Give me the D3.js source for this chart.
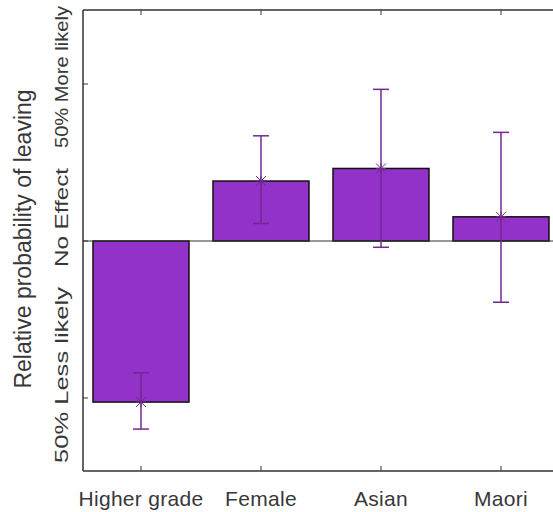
<!DOCTYPE html>
<html>
<head>
<meta charset="utf-8">
<script src="https://cdn.jsdelivr.net/npm/d3@7"></script>
<style>
  html, body { margin: 0; padding: 0; background: #fff; }
  svg { display: block; }
  text { font-family: "Liberation Sans", Arial, Helvetica, sans-serif; fill: #383838; }
</style>
</head>
<body>
<svg id="chart" width="553" height="512"></svg>
<script>
const categories = ["Higher grade", "Female", "Asian", "Maori"];
const values = [-0.513, 0.191, 0.231, 0.077];
const lowerCI = [-0.599, 0.056, -0.020, -0.195];
const upperCI = [-0.420, 0.335, 0.483, 0.346];
const yTickValues = [-0.5, 0, 0.5];
const yTickLabels = ["50% Less likely", "No Effect", "50% More likely"];
const yLabel = "Relative probability of leaving";

(function () {
const svg = d3.select("#chart");
const mLeft = 83, mTop = 10, mBottom = 471;
const x = d3.scaleLinear().domain([0.5167, 4.5167]).range([mLeft, mLeft + 480]);
const y = d3.scaleLinear().domain([-0.7325, 0.7357]).range([mBottom, mTop]);
const barW = x(1.4) - x(0.6);

const data = categories.map((c, i) => ({ c, i: i + 1, v: values[i], lo: lowerCI[i], hi: upperCI[i] }));

// bars
svg.append("g").selectAll("rect").data(data).join("rect")
  .attr("x", d => x(d.i) - barW / 2)
  .attr("width", barW)
  .attr("y", d => Math.min(y(d.v), y(0)))
  .attr("height", d => Math.abs(y(d.v) - y(0)))
  .attr("fill", "#9332c8")
  .attr("stroke", "#111")
  .attr("stroke-width", 1.5);

// zero line
svg.append("line")
  .attr("x1", mLeft).attr("x2", 553)
  .attr("y1", y(0)).attr("y2", y(0))
  .attr("stroke", "#333").attr("stroke-width", 1);

// error bars
const eb = svg.append("g").attr("stroke", "#73288f").attr("stroke-width", 1.5).attr("fill", "none");
data.forEach(d => {
  const cx = x(d.i);
  eb.append("line").attr("x1", cx).attr("x2", cx).attr("y1", y(d.lo)).attr("y2", y(d.hi));
  eb.append("line").attr("x1", cx - 8).attr("x2", cx + 8).attr("y1", y(d.lo)).attr("y2", y(d.lo));
  eb.append("line").attr("x1", cx - 8).attr("x2", cx + 8).attr("y1", y(d.hi)).attr("y2", y(d.hi));
  const cy = y(d.v), s = 5;
  eb.append("path").attr("stroke-width", 1)
    .attr("d", `M${cx - s},${cy - s}L${cx + s},${cy + s}M${cx - s},${cy + s}L${cx + s},${cy - s}M${cx},${cy - s}L${cx},${cy + s}M${cx - s},${cy}L${cx + s},${cy}`);
});

// axes lines
const axisColor = "#333";
svg.append("line").attr("x1", mLeft).attr("x2", 553).attr("y1", mBottom).attr("y2", mBottom).attr("stroke", axisColor).attr("stroke-width", 1.5);
svg.append("line").attr("x1", mLeft).attr("x2", 553).attr("y1", mTop).attr("y2", mTop).attr("stroke", axisColor).attr("stroke-width", 1.5);
svg.append("line").attr("x1", mLeft).attr("x2", mLeft).attr("y1", mTop).attr("y2", mBottom).attr("stroke", axisColor).attr("stroke-width", 1.5);

// x ticks (inward, top and bottom)
data.forEach(d => {
  const cx = x(d.i);
  svg.append("line").attr("x1", cx).attr("x2", cx).attr("y1", mBottom).attr("y2", mBottom - 5).attr("stroke", axisColor).attr("stroke-width", 1);
  svg.append("line").attr("x1", cx).attr("x2", cx).attr("y1", mTop).attr("y2", mTop + 5).attr("stroke", axisColor).attr("stroke-width", 1);
  svg.append("text").attr("x", cx).attr("y", 505.5).attr("text-anchor", "middle")
    .attr("font-size", 21).attr("letter-spacing", 0.3).text(d.c);
});

// y ticks
const yOffsets = [-23, -23.5, -7];
const yLabelLengths = [176, 99, 142];
yTickValues.forEach((v, i) => {
  svg.append("line").attr("x1", mLeft).attr("x2", mLeft + 5).attr("y1", y(v)).attr("y2", y(v)).attr("stroke", axisColor).attr("stroke-width", 1);
  svg.append("text")
    .attr("transform", `translate(68,${y(v) + yOffsets[i]}) rotate(-90)`)
    .attr("text-anchor", "middle").attr("font-size", 19)
    .attr("textLength", yLabelLengths[i]).attr("lengthAdjust", "spacingAndGlyphs")
    .text(yTickLabels[i]);
});

// y label
svg.append("text")
  .attr("transform", `translate(31,239) rotate(-90)`)
  .attr("text-anchor", "middle").attr("font-size", 23).text(yLabel);
})();
</script>
</body>
</html>
